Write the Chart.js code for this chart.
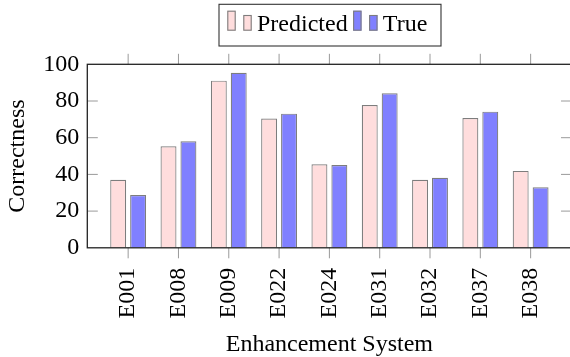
<!DOCTYPE html>
<html><head><meta charset="utf-8">
<script src="https://cdn.jsdelivr.net/npm/chart.js@4.4.0/dist/chart.umd.min.js"></script>
<style>html,body{margin:0;padding:0;overflow:hidden;background:#fff;width:570px;height:357px}</style>
</head><body>
<canvas id="c" width="580" height="357" style="display:block"></canvas>
<script>
const categories = ['E001','E008','E009','E022','E024','E031','E032','E037','E038'];
const predicted = [37.1, 55.3, 91.1, 70.4, 45.5, 77.8, 37.1, 70.7, 41.9];
const trueValues = [28.8, 58.0, 95.4, 73.1, 45.1, 84.2, 38.2, 74.2, 33.0];
const yTickValues = [0, 20, 40, 60, 80, 100];
const seriesNames = ['Predicted', 'True'];
const xTitle = 'Enhancement System';
const yTitle = 'Correctness';

const FONT = "'Liberation Serif','Times New Roman',serif";
const PINK = 'rgb(255,221,221)';
const BLUE = 'rgb(128,128,255)';
const EDGE = '#7d7d7d';

const decor = {
  id: 'decor',
  afterDraw(chart) {
    const {ctx, chartArea: a, scales: {x, y}} = chart;
    ctx.save();
    ctx.strokeStyle = '#9a9a9a';
    ctx.lineWidth = 1;
    ctx.beginPath();
    x.ticks.forEach(t => {
      const px = x.getPixelForValue(t.value);
      ctx.moveTo(px, a.bottom); ctx.lineTo(px, a.bottom + 10.5);
      ctx.moveTo(px, a.top); ctx.lineTo(px, a.top - 10.5);
    });
    y.ticks.forEach(t => {
      if (t.value === 0 || t.value === 100) return;
      const py = y.getPixelForValue(t.value);
      ctx.moveTo(a.left, py); ctx.lineTo(a.left + 10.5, py);
      ctx.moveTo(a.right, py); ctx.lineTo(a.right - 10.5, py);
    });
    ctx.stroke();
    ctx.strokeStyle = '#222';
    ctx.lineWidth = 1.3;
    ctx.strokeRect(a.left, a.top, a.right - a.left, a.bottom - a.top);

    // legend
    ctx.font = '24px ' + FONT;
    ctx.textBaseline = 'alphabetic';
    ctx.textAlign = 'left';
    const base = 30.7;
    const boxL = 219, boxT = 4.3;
    let cx = boxL + 8.3;
    const bar = (bx, h, fill, stroke) => {
      ctx.fillStyle = fill; ctx.fillRect(bx, base - h, 8.4, h);
      ctx.strokeStyle = stroke; ctx.lineWidth = 1.1; ctx.strokeRect(bx + 0.5, base - h + 0.5, 7.4, h - 1);
    };
    let lastEnd = cx;
    chart.data.datasets.forEach(d => {
      bar(cx, 20, d.backgroundColor, d.borderColor);
      bar(cx + 16, 15.7, d.backgroundColor, d.borderColor);
      cx += 29.7;
      ctx.fillStyle = '#000';
      ctx.fillText(d.label, cx, base);
      lastEnd = cx + ctx.measureText(d.label).width;
      cx = lastEnd + 5.5;
    });
    ctx.strokeStyle = '#333';
    ctx.lineWidth = 1.1;
    ctx.strokeRect(boxL, boxT, lastEnd + 13.7 - boxL, 41.7);
    ctx.restore();
  }
};

new Chart(document.getElementById('c'), {
  type: 'bar',
  data: {
    datasets: [
      {label: seriesNames[0], data: categories.map((c, i) => ({x: i, y: predicted[i]})),
       backgroundColor: PINK, borderColor: EDGE, borderWidth: 1.2},
      {label: seriesNames[1], data: categories.map((c, i) => ({x: i, y: trueValues[i]})),
       backgroundColor: BLUE, borderColor: EDGE, borderWidth: 1.2}
    ]
  },
  options: {
    responsive: false,
    animation: false,
    devicePixelRatio: 1,
    datasets: {bar: {categoryPercentage: 0.792, barPercentage: 0.8}},
    layout: {padding: {left: 0, right: 6.7, top: 64.3, bottom: 0}},
    plugins: {legend: {display: false}, tooltip: {enabled: false}},
    scales: {
      x: {
        type: 'linear', min: -0.812, max: 8.812, offset: false,
        afterBuildTicks: s => { s.ticks = categories.map((c, i) => ({value: i})); },
        afterFit: s => { s.height = 109.2; },
        ticks: {autoSkip: false, minRotation: 90, maxRotation: 90, padding: 20, color: '#000',
                font: {family: FONT, size: 24}, callback: v => categories[v]},
        grid: {display: false, drawTicks: false, tickLength: 0},
        border: {display: false},
        title: {display: true, text: xTitle, color: '#000', font: {family: FONT, size: 24, lineHeight: 1},
                padding: {top: 0, bottom: 0}}
      },
      y: {
        min: 0, max: 100,
        afterBuildTicks: s => { s.ticks = yTickValues.map(v => ({value: v})); },
        afterFit: s => { s.width = 87.3; },
        ticks: {padding: 8, color: '#000', font: {family: FONT, size: 24}},
        grid: {display: false, drawTicks: false, tickLength: 0},
        border: {display: false},
        title: {display: true, text: yTitle, color: '#000', font: {family: FONT, size: 24, lineHeight: 1},
                padding: {top: 5.5, bottom: 0}}
      }
    }
  },
  plugins: [decor]
});
</script>
</body></html>
